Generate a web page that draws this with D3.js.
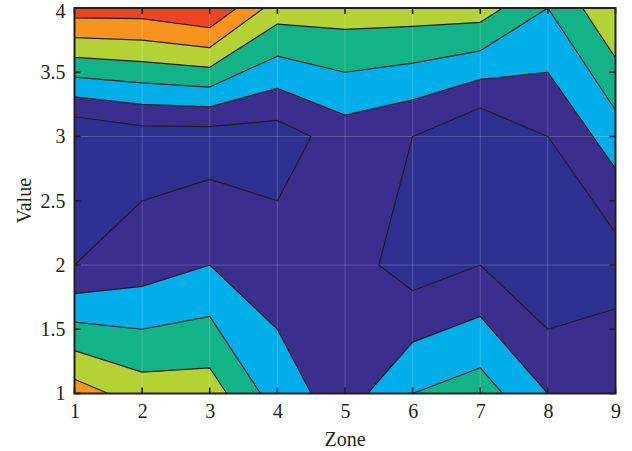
<!DOCTYPE html>
<html>
<head>
<meta charset="utf-8">
<script src="https://cdn.jsdelivr.net/npm/d3@7"></script>
<style>
  html, body { margin: 0; padding: 0; background: #fff; }
  svg { display: block; font-family: "Liberation Serif", "Times New Roman", serif; }
</style>
</head>
<body>
<svg id="chart" width="632" height="451"></svg>
<script>
// ---- data ----
const zones = [1, 2, 3, 4, 5, 6, 7, 8, 9];          // x grid (Zone)
const valueGrid = [1, 2, 3, 4];                       // y grid (Value)
// Z values per row (row = Value level), one entry per zone
const rowValue1 = [5.5, 4.5, 4.5, 2.5, 1.5, 3.0, 3.5, 2.0, 1.97];
const rowValue2 = [1.0, 1.5, 2.0, 1.5, 1.5, 0.5, 1.0, 0.0, 0.5];
const rowValue3 = [0.0, 0.5, 0.5, 0.5, 1.5, 1.0, 0.0, 1.0, 2.5];
const rowValue4 = [6.5, 6.5, 7.0, 4.5, 4.5, 4.5, 4.5, 3.0, 4.95];
const levels = [1, 2, 3, 4, 5, 6];
const bandColors = ["#2E3192", "#3B2E8E", "#00AEEA", "#13B388", "#B4D234", "#F7941E", "#EF4326"];
const xTicks = [1, 2, 3, 4, 5, 6, 7, 8, 9];
const yTicks = [1, 1.5, 2, 2.5, 3, 3.5, 4];
const xTitle = "Zone";
const yTitle = "Value";

// ---- layout ----
const svg = d3.select("#chart");
const mL = 74.5, mR = 615.5, mT = 8, mB = 393.5;
const fontSize = 20;
const x = d3.scaleLinear().domain([zones[0], zones[zones.length - 1]]).range([mL, mR]);
const y = d3.scaleLinear().domain([valueGrid[0], valueGrid[valueGrid.length - 1]]).range([mB, mT]);

const nx = zones.length, ny = valueGrid.length;
const values = [].concat(rowValue1, rowValue2, rowValue3, rowValue4);

svg.append("defs").append("clipPath").attr("id", "plotclip")
  .append("rect")
  .attr("x", x(zones[0])).attr("y", y(valueGrid[ny - 1]))
  .attr("width", x(zones[nx - 1]) - x(zones[0]))
  .attr("height", y(valueGrid[0]) - y(valueGrid[ny - 1]));

// grid coordinate c -> data: sample i sits at c = i + 0.5
const gx = d3.scaleLinear().domain([0.5, nx - 0.5]).range([zones[0], zones[nx - 1]]);
const gy = d3.scaleLinear().domain([0.5, ny - 0.5]).range([valueGrid[0], valueGrid[ny - 1]]);
const proj = d3.geoTransform({
  point: function (px, py) { this.stream.point(x(gx(px)), y(gy(py))); }
});
const path = d3.geoPath(proj);

const contours = d3.contours().size([nx, ny]).smooth(true).thresholds(levels)(values);

const plot = svg.append("g").attr("clip-path", "url(#plotclip)");
// base band (below lowest level)
plot.append("rect")
  .attr("x", x(zones[0])).attr("y", y(valueGrid[ny - 1]))
  .attr("width", x(zones[nx - 1]) - x(zones[0]))
  .attr("height", y(valueGrid[0]) - y(valueGrid[ny - 1]))
  .attr("fill", bandColors[0]);

plot.selectAll("path.band").data(contours).join("path")
  .attr("class", "band")
  .attr("d", path)
  .attr("fill", (d, i) => bandColors[i + 1])
  .attr("stroke", "none");

// faint seams along data grid
plot.selectAll("line.gx").data(zones.slice(1, -1)).join("line")
  .attr("class", "gx")
  .attr("x1", d => x(d)).attr("x2", d => x(d))
  .attr("y1", y(valueGrid[0])).attr("y2", y(valueGrid[ny - 1]))
  .attr("stroke", "#ffffff").attr("stroke-opacity", 0.18).attr("stroke-width", 1);
plot.selectAll("line.gy").data(valueGrid.slice(1, -1)).join("line")
  .attr("class", "gy")
  .attr("y1", d => y(d)).attr("y2", d => y(d))
  .attr("x1", x(zones[0])).attr("x2", x(zones[nx - 1]))
  .attr("stroke", "#ffffff").attr("stroke-opacity", 0.18).attr("stroke-width", 1);

// contour lines
plot.selectAll("path.iso").data(contours).join("path")
  .attr("class", "iso")
  .attr("d", path)
  .attr("fill", "none")
  .attr("stroke", "#231F20")
  .attr("stroke-width", 1.2)
  .attr("stroke-linejoin", "round");

// ---- axes ----
const axisColor = "#231F20";
const tickLen = 6;
const axG = svg.append("g");

const xAxisB = d3.axisBottom(x).tickValues(xTicks).tickSize(0).tickPadding(10).tickFormat(d3.format("d"));
const gxb = axG.append("g").attr("transform", `translate(0,${mB})`).call(xAxisB);
gxb.select(".domain").remove();
gxb.selectAll("text").attr("font-size", fontSize).attr("fill", axisColor)
  .attr("font-family", "Liberation Serif, serif");

const yAxisL = d3.axisLeft(y).tickValues(yTicks).tickSize(0).tickPadding(9).tickFormat(d3.format("~g"));
const gyl = axG.append("g").attr("transform", `translate(${mL},0)`).call(yAxisL);
gyl.select(".domain").remove();
gyl.selectAll("text").attr("font-size", fontSize).attr("fill", axisColor)
  .attr("font-family", "Liberation Serif, serif")
  .attr("dy", d => d === yTicks[yTicks.length - 1] ? "0.45em" : "0.32em");

// inward ticks on all four sides
const tickG = svg.append("g").attr("stroke", axisColor).attr("stroke-width", 1.6);
tickG.selectAll("line.tb").data(xTicks).join("line").attr("class", "tb")
  .attr("x1", d => x(d)).attr("x2", d => x(d)).attr("y1", mB).attr("y2", mB - tickLen);
tickG.selectAll("line.tt").data(xTicks).join("line").attr("class", "tt")
  .attr("x1", d => x(d)).attr("x2", d => x(d)).attr("y1", mT).attr("y2", mT + tickLen);
tickG.selectAll("line.tl").data(yTicks).join("line").attr("class", "tl")
  .attr("y1", d => y(d)).attr("y2", d => y(d)).attr("x1", mL).attr("x2", mL + tickLen);
tickG.selectAll("line.tr").data(yTicks).join("line").attr("class", "tr")
  .attr("y1", d => y(d)).attr("y2", d => y(d)).attr("x1", mR).attr("x2", mR - tickLen);

// box
svg.append("rect")
  .attr("x", mL).attr("y", mT)
  .attr("width", mR - mL).attr("height", mB - mT)
  .attr("fill", "none").attr("stroke", axisColor).attr("stroke-width", 2);

// titles
svg.append("text")
  .attr("x", (mL + mR) / 2).attr("y", 446)
  .attr("text-anchor", "middle")
  .attr("font-size", fontSize).attr("fill", axisColor)
  .text(xTitle);
svg.append("text")
  .attr("transform", `translate(31,${(mT + mB) / 2}) rotate(-90)`)
  .attr("text-anchor", "middle")
  .attr("font-size", fontSize).attr("fill", axisColor)
  .text(yTitle);
</script>
</body>
</html>
